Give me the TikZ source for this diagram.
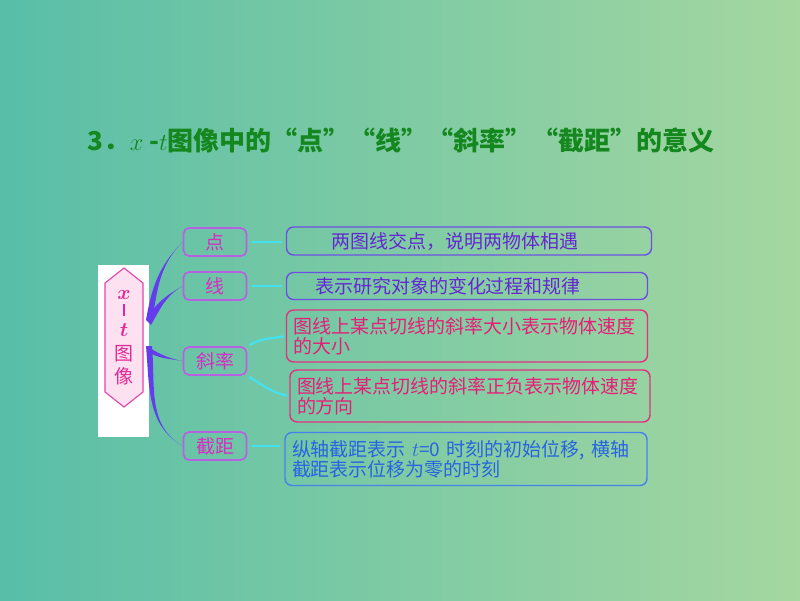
\documentclass[tikz,border=0pt]{standalone}
\usepackage{fontspec}
\setmainfont{Noto Sans CJK SC}
\usetikzlibrary{calc}

\newlength{\unitpx}
\setlength{\unitpx}{0.025cm}

\definecolor{bgleft}{RGB}{88,190,168}
\definecolor{bgright}{RGB}{165,215,160}
\definecolor{titlegreen}{RGB}{20,135,30}
\definecolor{branchcol}{RGB}{100,60,235}
\definecolor{keyborder}{RGB}{185,95,225}
\definecolor{keytext}{RGB}{215,45,195}
\definecolor{cyanlink}{RGB}{70,225,240}
\definecolor{violetline}{RGB}{110,80,225}
\definecolor{violettext}{RGB}{100,40,210}
\definecolor{pinkline}{RGB}{225,50,130}
\definecolor{pinktext}{RGB}{230,30,120}
\definecolor{blueline}{RGB}{70,130,235}
\definecolor{bluetext}{RGB}{40,100,225}
\definecolor{hexfill}{RGB}{253,225,240}
\definecolor{hexborder}{RGB}{225,70,170}
\definecolor{hextext}{RGB}{225,40,150}

% tapered branch: start, offset, out, in, target node
\newcommand{\branch}[5]{\fill[branchcol] (#1) to[out=#3,in=#4] (#5.west) to[out=#4,in=#3] ($(#1)+(#2)$) -- cycle;}

\begin{document}
\begin{tikzpicture}[
    x=\unitpx, y=\unitpx,
    every node/.style={font=\fontsize{13.5pt}{17pt}\selectfont},
    keynode/.style={rectangle, draw=keyborder, line width=1.2pt, rounded corners=4pt, text=keytext, minimum width=63\unitpx, minimum height=28\unitpx, inner sep=0pt},
    textbox/.style={rectangle, draw, line width=1pt, rounded corners=5pt, inner xsep=7\unitpx, inner ysep=0pt, font=\fontsize{13.5pt}{14.5pt}\selectfont},
    link/.style={cyanlink, line width=2pt}
]

% Background
\shade[left color=bgleft, right color=bgright] (0,0) rectangle (800,600);
\useasboundingbox (0,0) rectangle (800,600);

% Title
\node[font=\fontsize{18.5pt}{20pt}\selectfont\bfseries, text=titlegreen] (title) at (401,460) {3．$x$ -$t$图像中的“点”“线”“斜率”“截距”的意义};

% Left: x-t hexagon on white
\fill[white] (98,163) rectangle (149,335);
\filldraw[fill=hexfill, draw=hexborder, line width=0.8pt] (105,317) -- (124,332) -- (143,317) -- (143,208) -- (124,193) -- (105,208) -- cycle;
\node[text=hextext, align=center, inner sep=0pt] (xt) at (124,262) {{\boldmath$x$}\\[-5pt]\rule{0.8pt}{9pt}\\[-3pt]{\boldmath$t$}\\图\\像};

% Middle: key words
\node[keynode] (dian) at (215,358) {点};
\node[keynode] (xian) at (215,314) {线};
\node[keynode] (xielv) at (215,239) {斜率};
\node[keynode] (jieju) at (215,154) {截距};

% Right: meanings
\node[textbox, draw=violetline, text=violettext, minimum width=365\unitpx, minimum height=28\unitpx] (dianbox) at (469,359) {两图线交点，说明两物体相遇\hspace*{1.5em}};
\node[textbox, draw=violetline, text=violettext, minimum width=361\unitpx, minimum height=27\unitpx] (xianbox) at (467,314) {表示研究对象的变化过程和规律\hspace*{2em}};
\node[textbox, draw=pinkline, text=pinktext, text width=347\unitpx, minimum height=52\unitpx, align=left] (xielvbox1) at (467,264) {图线上某点切线的斜率大小表示物体速度\\的大小};
\node[textbox, draw=pinkline, text=pinktext, text width=346\unitpx, minimum height=52\unitpx, align=left] (xielvbox2) at (470,204) {图线上某点切线的斜率正负表示物体速度\\的方向};
\node[textbox, draw=blueline, text=bluetext, text width=348\unitpx, minimum height=53\unitpx, align=left] (jiejubox) at (466,141) {纵轴截距表示 $t$=0 时刻的初始位移, 横轴\\截距表示位移为零的时刻};

% Branches from hexagon
\coordinate (hubA) at (146,280);
\coordinate (hubB) at (146,254);
\branch{hubA}{6,-1}{80}{-135}{dian}
\branch{hubA}{5,-5}{60}{-150}{xian}
\branch{hubB}{2,-6}{-30}{170}{xielv}
\branch{hubB}{6,0}{-85}{150}{jieju}

% Links to meanings
\draw[link, shorten <=5\unitpx, shorten >=4\unitpx] (dian.east) -- (dian.east -| dianbox.west);
\draw[link, shorten <=5\unitpx, shorten >=4\unitpx] (xian.east) -- (xian.east -| xianbox.west);
\draw[link, shorten <=5\unitpx, shorten >=4\unitpx] (jieju.east) -- (jieju.east -| jiejubox.west);
\draw[link, line width=1.6pt, shorten <=2\unitpx, shorten >=2\unitpx] (xielv.north east) to[out=30,in=190] (xielvbox1.west);
\draw[link, line width=1.6pt, shorten <=2\unitpx, shorten >=2\unitpx] (xielv.south east) to[out=-30,in=170] (xielvbox2.west);

\end{tikzpicture}
\end{document}
